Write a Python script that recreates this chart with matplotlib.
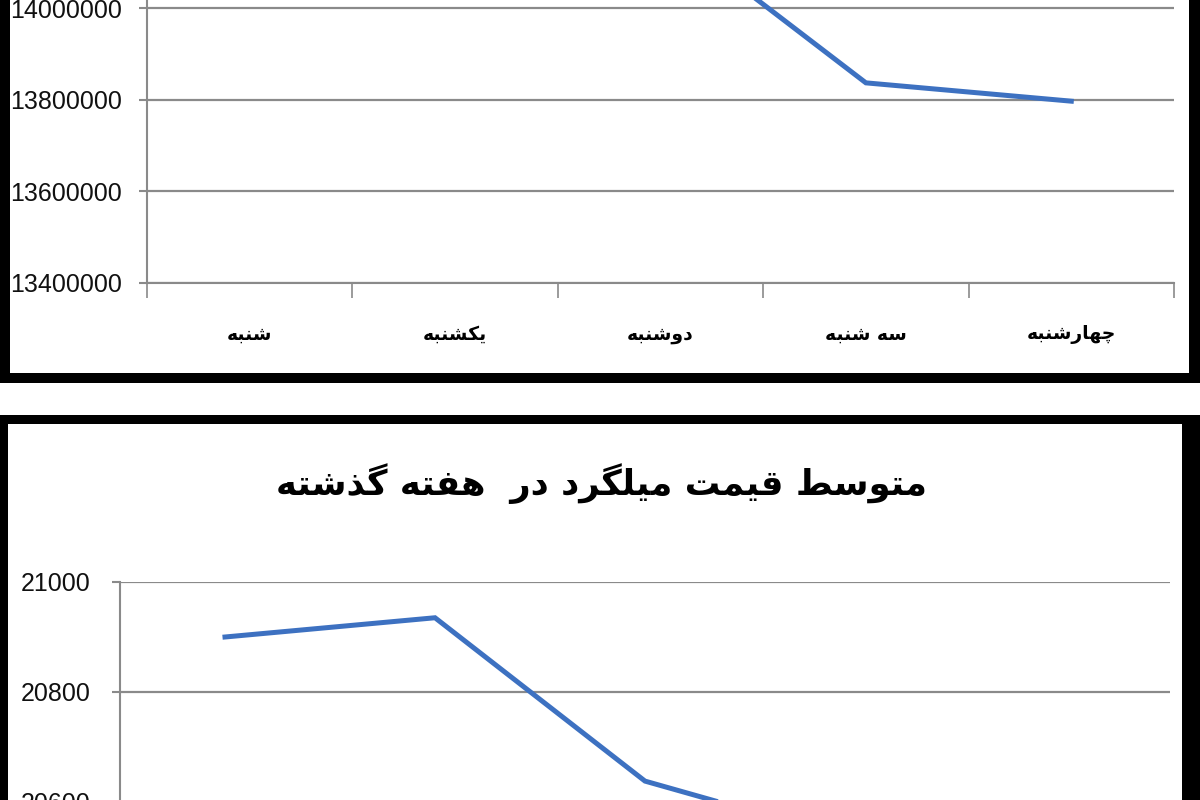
import matplotlib.pyplot as plt
from matplotlib.patches import Rectangle
from matplotlib.ticker import FuncFormatter

# =====================================
# DATA
# =====================================

days = ["شنبه", "یکشنبه", "دوشنبه", "سه شنبه", "چهارشنبه"]

top_prices = [14250000, 14300000, 14180000, 13837000, 13797000]
top_ticks = [13400000, 13600000, 13800000, 14000000, 14200000, 14400000]

rebar_prices = [20900, 20935, 20638, 20530, 20500]
rebar_ticks = [20400, 20600, 20800, 21000]

title_text = "متوسط قیمت میلگرد در  هفته گذشته"

LINE_COLOR = "#3d71c1"
GRID_COLOR = "#8a8a8a"
W, H = 1200, 800

# =====================================
# ARABIC SCRIPT SHAPING (no raqm in matplotlib)
# isolated, final, initial, medial
# =====================================

FORMS = {
    "ا": ("\uFE8D", "\uFE8E", None, None),
    "ب": ("\uFE8F", "\uFE90", "\uFE91", "\uFE92"),
    "ت": ("\uFE95", "\uFE96", "\uFE97", "\uFE98"),
    "د": ("\uFEA9", "\uFEAA", None, None),
    "ذ": ("\uFEAB", "\uFEAC", None, None),
    "ر": ("\uFEAD", "\uFEAE", None, None),
    "س": ("\uFEB1", "\uFEB2", "\uFEB3", "\uFEB4"),
    "ش": ("\uFEB5", "\uFEB6", "\uFEB7", "\uFEB8"),
    "ط": ("\uFEC1", "\uFEC2", "\uFEC3", "\uFEC4"),
    "ف": ("\uFED1", "\uFED2", "\uFED3", "\uFED4"),
    "ق": ("\uFED5", "\uFED6", "\uFED7", "\uFED8"),
    "ل": ("\uFEDD", "\uFEDE", "\uFEDF", "\uFEE0"),
    "م": ("\uFEE1", "\uFEE2", "\uFEE3", "\uFEE4"),
    "ن": ("\uFEE5", "\uFEE6", "\uFEE7", "\uFEE8"),
    "ه": ("\uFEE9", "\uFEEA", "\uFEEB", "\uFEEC"),
    "و": ("\uFEED", "\uFEEE", None, None),
    "چ": ("\uFB7A", "\uFB7B", "\uFB7C", "\uFB7D"),
    "ک": ("\uFB8E", "\uFB8F", "\uFB90", "\uFB91"),
    "گ": ("\uFB92", "\uFB93", "\uFB94", "\uFB95"),
    "ی": ("\uFBFC", "\uFBFD", "\uFBFE", "\uFBFF"),
}


def shape(text):
    out = []
    n = len(text)
    for i, c in enumerate(text):
        if c not in FORMS:
            out.append(c)
            continue
        dual = FORMS[c][2] is not None
        prev_joins = (
            i > 0
            and text[i - 1] in FORMS
            and FORMS[text[i - 1]][2] is not None
        )
        next_joins = dual and i < n - 1 and text[i + 1] in FORMS
        if prev_joins and next_joins:
            out.append(FORMS[c][3])
        elif prev_joins:
            out.append(FORMS[c][1])
        elif next_joins:
            out.append(FORMS[c][2])
        else:
            out.append(FORMS[c][0])
    return "".join(out)[::-1]


def px_box(x0, y0, x1, y1):
    return [x0 / W, 1 - y1 / H, (x1 - x0) / W, (y1 - y0) / H]


def style_axes(ax, ticks, ylim, ypad):
    ax.set_facecolor("none")
    ax.set_xlim(-0.5, len(days) - 0.5)
    ax.set_ylim(*ylim)
    ax.set_yticks(ticks)
    ax.yaxis.set_major_formatter(FuncFormatter(lambda v, _: f"{v:.0f}"))
    ax.set_xticks(range(len(days)))
    ax.set_xticklabels(
        [shape(d) for d in days],
        fontsize=13.5,
        fontweight="bold",
        family="DejaVu Sans"
    )
    ax.set_xticks([i - 0.5 for i in range(len(days) + 1)], minor=True)
    ax.tick_params(axis="x", which="major", length=0, pad=30)
    ax.tick_params(
        axis="x", which="minor", length=11, width=1.2, color=GRID_COLOR
    )
    ax.tick_params(
        axis="y", length=6, width=1.5, color=GRID_COLOR,
        pad=ypad, labelcolor="#111111"
    )
    for lab in ax.get_yticklabels():
        lab.set_family("Liberation Sans")
        lab.set_fontsize(18)
    for side in ["top", "right"]:
        ax.spines[side].set_visible(False)
    for side in ["left", "bottom"]:
        ax.spines[side].set_color(GRID_COLOR)
        ax.spines[side].set_linewidth(1.5)
    ax.grid(axis="y", color=GRID_COLOR, linewidth=1.6)
    ax.set_axisbelow(True)


fig = plt.figure(figsize=(12, 8), dpi=100)

# =====================================
# PANEL FRAMES
# =====================================

frames = [
    ((0, -60, 1200, 383), (10, -60, 1189, 373)),
    ((0, 415, 1200, 860), (8, 424, 1182, 860)),
]
for outer, inner in frames:
    for box, color in [(outer, "black"), (inner, "white")]:
        x, y, w, h = px_box(*box)
        fig.add_artist(
            Rectangle(
                (x, y), w, h,
                transform=fig.transFigure,
                facecolor=color,
                edgecolor="none",
                zorder=-10
            )
        )

# =====================================
# TOP PANEL (cut at the top)
# =====================================

ax_top = fig.add_axes(px_box(147, -175, 1174, 283))
ax_top.plot(
    range(len(days)), top_prices,
    color=LINE_COLOR, linewidth=3.6, solid_joinstyle="miter"
)
style_axes(ax_top, top_ticks, (13400000, 14400000), 12)

# =====================================
# BOTTOM PANEL (cut at the bottom)
# =====================================

ax_bot = fig.add_axes(px_box(120, 582, 1170, 912))
ax_bot.plot(
    range(len(days)), rebar_prices,
    color=LINE_COLOR, linewidth=3.6, solid_joinstyle="miter"
)
style_axes(ax_bot, rebar_ticks, (20400, 21000), 15)

fig.text(
    602 / W, 1 - 484 / H,
    shape(title_text),
    ha="center", va="center",
    fontsize=25.5, fontweight="bold",
    family="DejaVu Sans"
)

fig.savefig("out.png", dpi=100)
